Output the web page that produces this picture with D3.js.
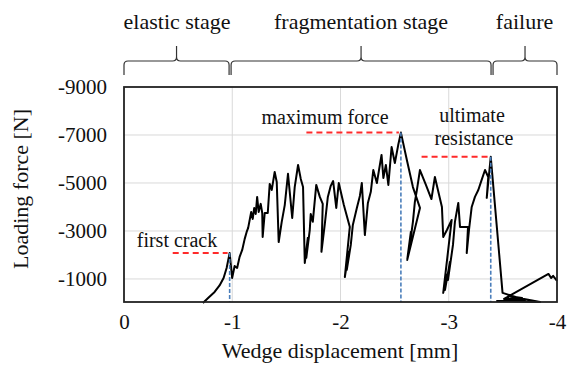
<!DOCTYPE html>
<html>
<head>
<meta charset="utf-8">
<script src="https://cdn.jsdelivr.net/npm/d3@7"></script>
<style>
body { margin: 0; background: #fff; }
</style>
</head>
<body>
<div class="chart"></div>
<script>
// wedge test record
const disp = [-0.729,-0.782,-0.837,-0.883,-0.920,-0.948,-0.976,-0.999,-1.022,-1.045,
  -1.068,-1.092,-1.115,-1.133,-1.147,-1.175,-1.189,-1.203,-1.217,-1.230,
  -1.244,-1.263,-1.277,-1.281,-1.300,-1.328,-1.346,-1.365,-1.392,-1.411,
  -1.429,-1.457,-1.485,-1.515,-1.531,-1.554,-1.577,-1.608,-1.633,-1.654,
  -1.670,-1.698,-1.684,-1.716,-1.725,-1.744,-1.776,-1.809,-1.836,-1.824,-1.855,-1.883,
  -1.910,-1.932,-1.961,-1.984,-2.031,-2.086,-2.040,-2.077,-2.058,-2.095,-2.114,-2.151,
  -2.179,-2.197,-2.225,-2.253,-2.280,-2.303,-2.336,-2.379,-2.396,-2.419,
  -2.442,-2.472,-2.502,-2.533,-2.558,-2.613,-2.669,-2.734,-2.616,-2.650,-2.632,-2.669,
  -2.687,-2.706,-2.734,-2.789,-2.840,-2.872,-2.900,-2.937,-2.949,-2.983,
  -3.027,-2.949,-2.983,-2.965,-3.011,-2.993,-3.039,-3.057,-3.088,-3.104,-3.178,-3.166,-3.187,
  -3.212,-3.242,-3.273,-3.304,-3.335,-3.365,-3.351,-3.388,-3.497,-3.705,
  -3.446,-3.844,-3.548,-3.677,-3.511,-3.921,-3.946,-3.964,-4.0]
const force = [0,-230,-460,-730,-1040,-1460,-2080,-1040,-1540,-1460,
  -1920,-2210,-2670,-2960,-3130,-3790,-3500,-3960,-3710,-4420,
  -3790,-4130,-3750,-2750,-3750,-3750,-4960,-4710,-5460,-5040,
  -2540,-3380,-4080,-5380,-4630,-3540,-4830,-5750,-5170,-4830,
  -1670,-2710,-1880,-3040,-3710,-3380,-4920,-4420,-4130,-2130,-3290,-4420,
  -4880,-5080,-3960,-5000,-4080,-3170,-1080,-2130,-1380,-2420,-3250,-3960,
  -4460,-5000,-2830,-4170,-4630,-5540,-5000,-6170,-5210,-5750,
  -4920,-6500,-5830,-6580,-7100,-5960,-4830,-3960,-1790,-2960,-2130,-3380,
  -4210,-4710,-5540,-4920,-4330,-5250,-4710,-4000,-2750,-3040,
  -3460,-420,-1170,-540,-1710,-960,-2420,-3380,-4170,-3170,-3170,-2080,-3040,
  -4000,-4420,-4710,-5130,-5540,-5250,-4380,-6090,-420,-130,
  -80,-40,-290,-210,-170,-1210,-1040,-1130,-920]

const xTicks = [0,-1,-2,-3,-4]
const yTicks = [-1000,-3000,-5000,-7000,-9000]

// key points: first crack, maximum force, ultimate resistance
const keyNames = ['first crack','maximum force','ultimate resistance']
const keyDisp = [-0.976,-2.558,-3.388]
const keyForce = [-2080,-7100,-6090]
const keyLineStart = [-0.45,-1.685,-2.749]

const stageNames = ['elastic stage','fragmentation stage','failure']
const stageBounds = [0,-0.98,-3.40,-4]

const width = 567;
const height = 366;
const serif = "'Liberation Serif'"

const x = d3.scaleLinear().domain([0,-4]).range([124,557])
const y = d3.scaleLinear().domain([-40,-9000]).range([302,87])

const svg = d3.select('.chart')
  .append('svg')
  .attr('width', width)
  .attr('height', height)

// grid
svg.selectAll('.vgrid')
  .data(xTicks.slice(1,4))
  .enter()
  .append('line')
  .attr('x1', d => x(d)).attr('x2', d => x(d))
  .attr('y1', y(-9000)).attr('y2', y(-40))
  .attr('stroke', '#d9d9d9').attr('stroke-width', 1)

svg.selectAll('.hgrid')
  .data(yTicks.slice(0,4))
  .enter()
  .append('line')
  .attr('x1', x(0)).attr('x2', x(-4))
  .attr('y1', d => y(d)).attr('y2', d => y(d))
  .attr('stroke', '#d9d9d9').attr('stroke-width', 1)

// axes (labels only)
const xAxis = svg.append('g')
  .attr('transform', 'translate(0,' + (y(-40) + 9) + ')')
  .call(d3.axisBottom(x).tickValues(xTicks).tickSize(0).tickFormat(d => String(d)))
xAxis.select('.domain').remove()
xAxis.selectAll('text')
  .attr('dy', '0.71em')
  .attr('fill', '#111')
  .style('font-family', serif)
  .style('font-size', '21px')

const yAxis = svg.append('g')
  .attr('transform', 'translate(' + (x(0) - 17) + ',0)')
  .call(d3.axisLeft(y).tickValues(yTicks).tickSize(0).tickFormat(d => String(d)))
yAxis.select('.domain').remove()
yAxis.selectAll('text')
  .attr('x', 0)
  .attr('fill', '#111')
  .style('font-family', serif)
  .style('font-size', '21px')

// the curve
const pts = disp.map((d,i) => [d, force[i]])
svg.append('path')
  .datum(pts)
  .attr('d', d3.line().x(d => x(d[0])).y(d => y(d[1])))
  .attr('fill', 'none')
  .attr('stroke', '#000')
  .attr('stroke-width', 2)
  .attr('stroke-linejoin', 'round')

// blue drop lines
svg.selectAll('.drop')
  .data(keyDisp)
  .enter()
  .append('line')
  .attr('x1', d => x(d)).attr('x2', d => x(d))
  .attr('y1', (d,i) => y(keyForce[i])).attr('y2', y(-40))
  .attr('stroke', '#4a7ebb')
  .attr('stroke-width', 1.6)
  .attr('stroke-dasharray', '4,2')

// red level lines
svg.selectAll('.level')
  .data(keyForce)
  .enter()
  .append('line')
  .attr('x1', (d,i) => x(keyLineStart[i])).attr('x2', (d,i) => x(keyDisp[i]) - 2)
  .attr('y1', d => y(d)).attr('y2', d => y(d))
  .attr('stroke', '#ff2a2a')
  .attr('stroke-width', 2)
  .attr('stroke-dasharray', '6,4')

// frame
svg.append('rect')
  .attr('x', x(0)).attr('y', y(-9000))
  .attr('width', x(-4) - x(0)).attr('height', y(-40) - y(-9000))
  .attr('fill', 'none')
  .attr('stroke', '#222')
  .attr('stroke-width', 1.8)

// annotations
function label(tx, ty, str, size){
  svg.append('text')
    .attr('x', tx).attr('y', ty)
    .attr('text-anchor', 'middle')
    .attr('fill', '#111')
    .style('font-family', serif)
    .style('font-size', size + 'px')
    .text(str)
}
label(177, 247, keyNames[0], 20)
label(325, 124, keyNames[1], 20)
label(472, 122, 'ultimate', 20)
label(474, 145, 'resistance', 20)

// stage braces
function brace(x0, x1){
  const m = (x0 + x1) / 2, yb = 61, r = 4
  return 'M' + x0 + ',75 L' + x0 + ',' + (yb + r) + ' Q' + x0 + ',' + yb + ' ' + (x0 + r) + ',' + yb +
    ' L' + (m - r) + ',' + yb + ' Q' + m + ',' + yb + ' ' + m + ',' + (yb - r) + ' L' + m + ',46' +
    ' M' + m + ',' + (yb - r) + ' Q' + m + ',' + yb + ' ' + (m + r) + ',' + yb +
    ' L' + (x1 - r) + ',' + yb + ' Q' + x1 + ',' + yb + ' ' + x1 + ',' + (yb + r) + ' L' + x1 + ',75'
}
svg.selectAll('.brace')
  .data(stageNames)
  .enter()
  .append('path')
  .attr('d', (d,i) => brace(x(stageBounds[i]) + (i > 0 ? 1 : 0), x(stageBounds[i+1]) - (i < 2 ? 1 : 0)))
  .attr('fill', 'none')
  .attr('stroke', '#333')
  .attr('stroke-width', 1.2)

stageNames.forEach((d,i) => {
  label((x(stageBounds[i]) + x(stageBounds[i+1])) / 2, 29, d, 22)
})

// axis titles
label(340, 358, 'Wedge displacement [mm]', 22)
svg.append('text')
  .attr('transform', 'translate(28,189) rotate(-90)')
  .attr('text-anchor', 'middle')
  .attr('fill', '#111')
  .style('font-family', serif)
  .style('font-size', '22px')
  .text('Loading force [N]')
</script>
</body>
</html>
